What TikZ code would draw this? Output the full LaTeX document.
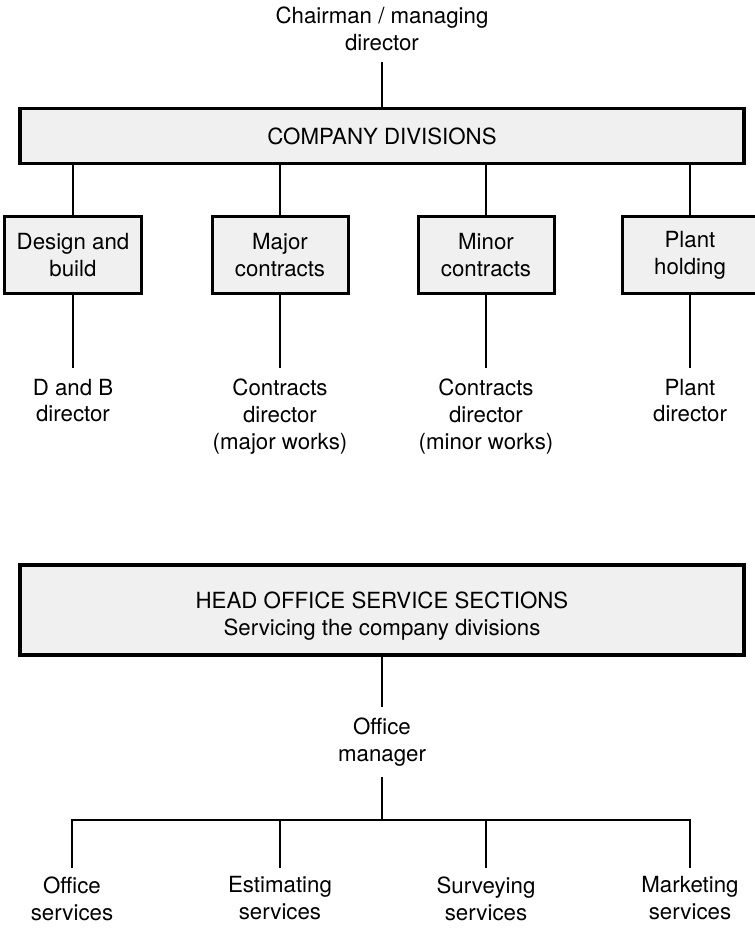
\documentclass[tikz,border=0pt]{standalone}
\usepackage{fontspec}
\setmainfont{TeX Gyre Heros}
\newcommand\orgfont{\fontsize{19}{23}\selectfont}
\begin{document}
\begin{tikzpicture}[x=0.03cm,y=-0.03cm]
  \tikzset{
    divbox/.style={draw,line width=1mm,fill=gray!12,minimum width=21.72cm,
      minimum height=1.65cm,align=center,font=\orgfont},
    unitbox/.style={draw,line width=0.9mm,fill=gray!12,minimum width=4.08cm,
      minimum height=2.31cm,align=center,font=\orgfont},
    post/.style={align=center,inner xsep=0pt,inner ysep=9pt,font=\orgfont},
    link/.style={line width=0.6mm}
  }
  \useasboundingbox (0,0) rectangle (754,928);

    %TOP
    \node[post,anchor=south] (chair) at (382,62) {Chairman / managing\\director};
    \node[divbox] (div) at (382,136) {COMPANY DIVISIONS};
    \draw[link] (chair) -- (div);

    %DIVISIONS
    \foreach \n/\x/\t in {1/73/{Design and\\build},2/280/{Major\\contracts},
      3/486/{Minor\\contracts},4/690/{Plant\\holding}} {
      \node[unitbox] (u\n) at (\x,255) {\t};
      \draw[link] (div.south -| u\n.north) -- (u\n.north);
    }
    \foreach \n/\x/\t in {1/73/{D and B\\director},2/280/{Contracts\\director\\(major works)},
      3/486/{Contracts\\director\\(minor works)},4/690/{Plant\\director}} {
      \node[post,anchor=north] (d\n) at (\x,368) {\t};
      \draw[link] (u\n) -- (d\n);
    }

    %HEAD OFFICE
    \node[divbox,minimum height=2.7cm] (head) at (382,610)
      {\rule{0pt}{24pt}HEAD OFFICE SERVICE SECTIONS\\Servicing the company divisions};
    \node[post,anchor=north] (mgr) at (382,707) {Office\\manager};
    \draw[link] (head) -- (mgr);
    \coordinate (bar) at (382,820);
    \draw[link] (mgr) -- (bar);

    %SERVICES
    \foreach \n/\x/\t in {1/72/{Office\\services},2/280/{Estimating\\services},
      3/486/{Surveying\\services},4/690/{Marketing\\services}} {
      \node[post,anchor=north,inner ysep=7pt] (s\n) at (\x,868) {\t};
    }
    \draw[link] (s1) |- (bar) -| (s4);
    \foreach \n in {2,3} {
      \draw[link] (s\n) -- (s\n |- bar);
    }
\end{tikzpicture}
\end{document}
